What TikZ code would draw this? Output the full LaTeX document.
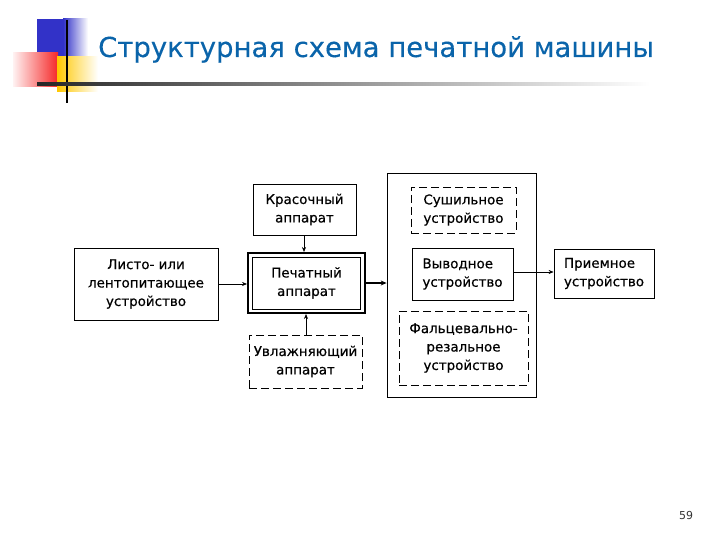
\documentclass[tikz,border=0pt]{standalone}
\usepackage{fontspec}
\setmainfont{DejaVu Sans}
\newfontfamily\boxfont[FakeBold=0.5]{DejaVu Sans}
\newfontfamily\headfont[FakeBold=0.3]{DejaVu Sans}
\usepackage{tikz}
\usetikzlibrary{arrows.meta,calc,positioning}
\definecolor{titleblue}{RGB}{10,100,170}
\definecolor{sqblue}{RGB}{50,50,200}
\definecolor{sqred}{RGB}{245,40,40}
\definecolor{sqyellow}{RGB}{255,200,0}
\tikzset{
  unitbox/.style={draw,line width=0.8pt,inner sep=0pt,align=center,
    font=\boxfont\fontsize{13.5}{18.5}\selectfont},
  optbox/.style={unitbox,dash pattern=on 8bp off 4bp},
  feed/.style={-{Stealth[length=5bp,width=4bp]},line width=0.6pt}
}
\begin{document}
\begin{tikzpicture}[x=1bp,y=-1bp]
  \useasboundingbox (0,0) rectangle (720,540);
  % corner decoration
  \fill[sqblue] (37,19) rectangle (63,57);
  \shade[left color=sqblue,right color=white] (63,19) rectangle (88,57);
  \shade[left color=red!5,right color=sqred] (13,53) rectangle (58,87);
  \shade[left color=sqyellow,right color=white] (57,57) rectangle (98,92);
  \draw[line width=2pt] (67,20) -- (67,103);
  \shade[left color=black!85,right color=white] (37,83) rectangle (650,85.5);
  \node[anchor=base west,inner sep=0pt,titleblue,
    font=\headfont\fontsize{27.6}{30}\selectfont] (title) at (98,57)
    {Структурная схема печатной машины};
  % left column
  \node[unitbox,minimum width=144bp,minimum height=72bp] (feeder) at (146,284)
    {Листо- или\\лентопитающее\\устройство};
  \node[unitbox,minimum width=103bp,minimum height=51bp] (ink) at (304.5,209.5)
    {Красочный\\аппарат};
  \node[draw,line width=2pt,minimum width=117bp,minimum height=60bp] (pressout)
    at (306.5,283) {};
  \node[unitbox,minimum width=108bp,minimum height=52bp] (press) at (306.5,283)
    {Печатный\\аппарат};
  \node[optbox,minimum width=113bp,minimum height=53bp] (damp) at (305.5,361.5)
    {Увлажняющий\\аппарат};
  % output section
  \node[unitbox,minimum width=149bp,minimum height=224bp] (outunit)
    at (461.5,285) {};
  \node[optbox,align=left,minimum width=105bp,minimum height=46bp] (dryer)
    at (463.5,210) {Сушильное\\устройство};
  \node[unitbox,align=left,minimum width=101bp,minimum height=52bp] (delivery)
    at (462.5,274) {Выводное\\устройство};
  \node[optbox,minimum width=129bp,minimum height=74bp] (folder)
    at (463.5,348) {Фальцевально-\\резальное\\устройство};
  \node[unitbox,align=left,minimum width=100bp,minimum height=49bp] (receiver)
    at (604,273.5) {Приемное\\устройство};
  % connections
  \draw[feed] (feeder.east) -- (feeder.east -| pressout.west);
  \draw[feed] (ink.south -| 304,0) -- (304,0 |- pressout.north);
  \draw[feed] (damp.north -| 306,0) -- (306,0 |- pressout.south);
  \draw[feed,line width=2pt,-{Stealth[length=6bp,width=5bp]}]
    (pressout.east) -- (pressout.east -| outunit.west);
  \draw[feed] (delivery.east |- 0,272) -- (receiver.west |- 0,272);
  \node[font=\fontsize{11}{12}\selectfont,black!80] (pageno) at (686,516) {59};
\end{tikzpicture}
\end{document}
